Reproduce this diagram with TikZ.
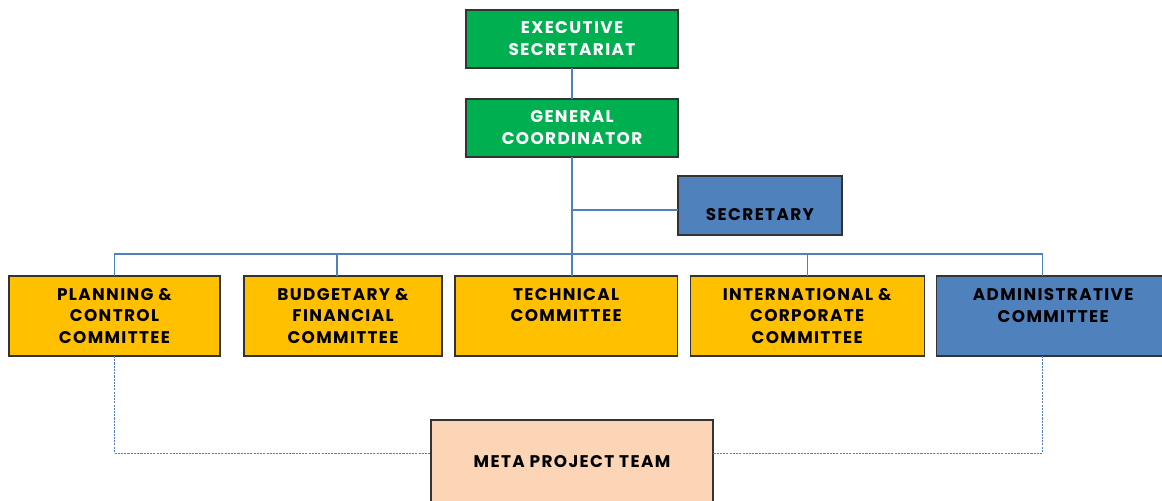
\documentclass[tikz,border=0pt]{standalone}
\usepackage{fontspec}
\setmainfont{Poppins}[LetterSpace=8]
\usepackage{tikz}
\usetikzlibrary{positioning}

\definecolor{boardgreen}{HTML}{00B050}
\definecolor{boardgold}{HTML}{FFC000}
\definecolor{boardblue}{HTML}{4F81BD}
\definecolor{boardpeach}{HTML}{FBD5B5}

\begin{document}
\begin{tikzpicture}[x=0.025cm,y=-0.025cm,
    font=\fontsize{12}{15.6}\selectfont\bfseries,
    unit/.style={draw=black!80,line width=0.9pt,align=center,inner sep=0pt,outer sep=0pt},
    topunit/.style={unit,fill=boardgreen,text=white,minimum width=5.3cm,minimum height=1.45cm},
    committee/.style={unit,fill=boardgold,minimum height=2cm},
    link/.style={draw=boardblue,line width=0.9pt},
    looselink/.style={draw=boardblue,line width=0.7pt,dash pattern=on 1.5pt off 0.8pt}]
    \useasboundingbox (0,0) rectangle (1162,500);
    \clip (0,0) rectangle (1162,500);

    % top of the chart
    \node [topunit] (exec) at (572,39) {EXECUTIVE\\SECRETARIAT};
    \node [topunit] (coord) at (572,128) {GENERAL\\COORDINATOR};
    \node [unit,fill=boardblue,minimum width=4.1cm,minimum height=1.475cm] (secr)
        at (760,205.5) {\rule{0pt}{6pt}\\SECRETARY};

    % committees row
    \node [committee,minimum width=5.275cm] (plan) at (114.5,316)
        {PLANNING \&\\CONTROL\\COMMITTEE};
    \node [committee,minimum width=4.95cm,right=0.6cm of plan] (budg)
        {BUDGETARY \&\\FINANCIAL\\COMMITTEE};
    \node [committee,minimum width=5.55cm,right=0.325cm of budg] (tech)
        {TECHNICAL\\COMMITTEE\\\mbox{}};
    \node [committee,minimum width=5.85cm,right=0.325cm of tech] (intl)
        {INTERNATIONAL \&\\CORPORATE\\COMMITTEE};
    \node [unit,fill=boardblue,minimum height=2cm,minimum width=5.85cm,right=0.3cm of intl] (admin)
        {ADMINISTRATIVE\\COMMITTEE\\\mbox{}};

    \node [unit,fill=boardpeach,minimum width=7.05cm,minimum height=2.1cm] (meta)
        at (572,462) {META PROJECT TEAM};

    % solid lines of command
    \coordinate (tap) at (572,210);
    \coordinate (bus) at (572,254);
    \draw [link] (exec) -- (coord);
    \draw [link] (coord) -- (bus);
    \draw [link] (tap) -- (tap -| secr.west);
    \draw [link] (bus) -| (plan.north);
    \draw [link] (bus) -| ([xshift=-0.15cm]budg.north);
    \draw [link] (bus) -- (bus |- tech.north);
    \draw [link] (bus) -| (intl.north);
    \draw [link] (bus) -| ([xshift=-0.275cm]admin.north);

    % dashed links to the project team
    \draw [looselink] (plan.south) |- ([yshift=0.225cm]meta.west);
    \draw [looselink] ([xshift=-0.275cm]admin.south) |- ([yshift=0.225cm]meta.east);
\end{tikzpicture}
\end{document}
